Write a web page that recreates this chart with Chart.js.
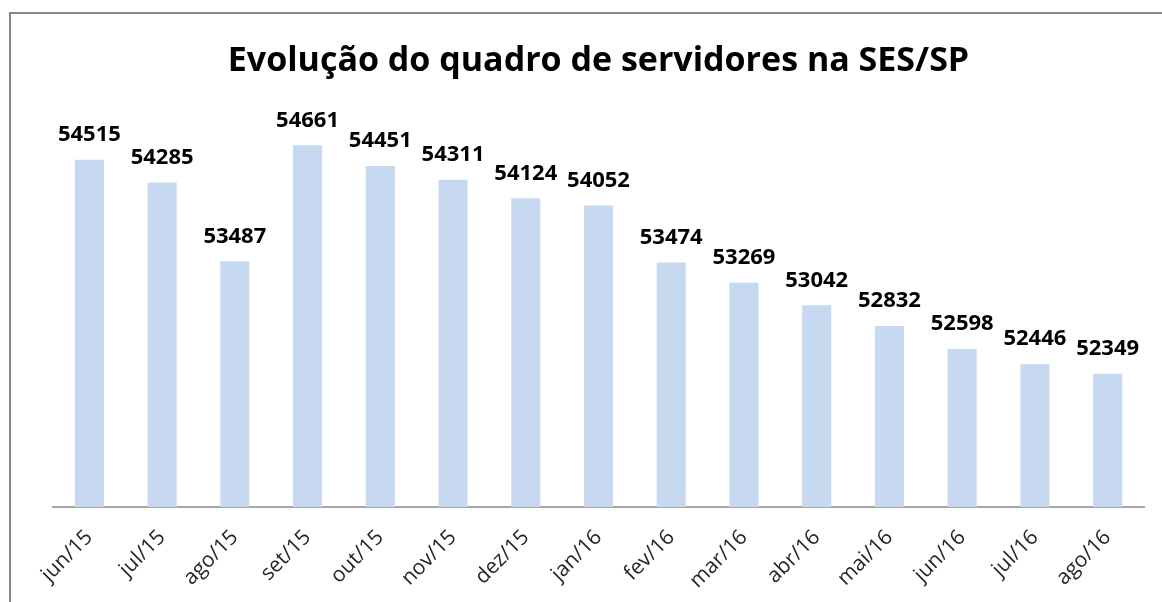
<!DOCTYPE html>
<html>
<head>
<meta charset="utf-8">
<script src="https://cdn.jsdelivr.net/npm/chart.js@4"></script>
<style>
  body { margin: 0; background: #fff; }
  #caixa { position: relative; width: 1162px; height: 602px; overflow: hidden; }
  #moldura { position: absolute; left: 9px; top: 12px; width: 1200px; height: 700px;
             border-left: 2px solid #878787; border-top: 2px solid #878787; }
  canvas { position: absolute; left: 0; top: 0; }
</style>
</head>
<body>
<div id="caixa">
  <div id="moldura"></div>
  <canvas id="grafico" width="1162" height="602"></canvas>
</div>
<script>
// meses do período
const meses = ['jun/15', 'jul/15', 'ago/15', 'set/15', 'out/15', 'nov/15', 'dez/15', 'jan/16',
               'fev/16', 'mar/16', 'abr/16', 'mai/16', 'jun/16', 'jul/16', 'ago/16'];
// número de servidores em cada mês
const servidores = [54515, 54285, 53487, 54661, 54451, 54311, 54124, 54052,
                    53474, 53269, 53042, 52832, 52598, 52446, 52349];
// limites do eixo (não aparece)
const eixoMin = 51000;
const eixoMax = 55000;

// escreve o valor em cima de cada barra
const rotulos = {
    id: 'rotulos',
    afterDatasetsDraw(chart) {
        const ctx = chart.ctx;
        const meta = chart.getDatasetMeta(0);
        ctx.save();
        ctx.font = 'bold 22px "Open Sans"';
        ctx.fillStyle = '#000';
        ctx.textAlign = 'center';
        ctx.textBaseline = 'middle';
        meta.data.forEach(function (barra, i) {
            ctx.fillText(String(servidores[i]), barra.x, barra.y - 25);
        });
        ctx.restore();
    }
};

const ctx = document.getElementById('grafico');

const data = {
    labels: meses,
    datasets: [{
        label: 'Servidores',
        backgroundColor: 'rgb(198, 217, 240)',
        data: servidores,
        barPercentage: 0.4,
        categoryPercentage: 1.0
    }]
};

const config = {
    type: 'bar',
    data: data,
    options: {
        responsive: false,
        animation: false,
        layout: { padding: { left: 53, right: 18, top: 0, bottom: 0 } },
        plugins: {
            legend: { display: false },
            tooltip: { enabled: false },
            title: {
                display: true,
                text: 'Evolução do quadro de servidores na SES/SP',
                color: '#000',
                font: { family: 'Open Sans', size: 34, weight: 'bold' },
                padding: { top: 41, bottom: 30 }
            }
        },
        scales: {
            x: {
                grid: { display: false },
                border: { display: true, color: '#a6a6a6', width: 2 },
                ticks: {
                    color: '#262626',
                    font: { family: 'Open Sans', size: 21 },
                    minRotation: 45,
                    maxRotation: 45,
                    padding: 10
                },
                afterFit(escala) { escala.height = 95; }
            },
            y: {
                display: false,
                min: eixoMin,
                max: eixoMax
            }
        }
    },
    plugins: [rotulos]
};

const meuGrafico = new Chart(ctx, config);
</script>
</body>
</html>
